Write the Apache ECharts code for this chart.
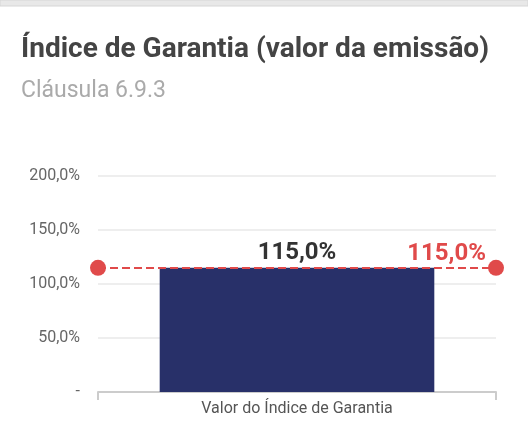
<!DOCTYPE html>
<html>
<head>
<meta charset="utf-8">
<script src="https://cdn.jsdelivr.net/npm/echarts@6/dist/echarts.min.js"></script>
<style>
  html, body { margin: 0; padding: 0; background: #fff; }
  #chart { width: 528px; height: 446px; }
</style>
</head>
<body>
<div id="chart"></div>
<script>
const categories = ['Valor do Índice de Garantia']
const indexValues = [115]
const minimumIndex = 115
const yTicks = [0, 50, 100, 150, 200]

const fmt = (v) => v === 0 ? '-' : v.toFixed(1).replace('.', ',') + '%'

const chart = echarts.init(document.getElementById('chart'))

chart.setOption({
  backgroundColor: '#ffffff',
  textStyle: { fontFamily: 'Roboto' },
  title: {
    text: 'Índice de Garantia (valor da emissão)',
    subtext: 'Cláusula 6.9.3',
    left: 16,
    top: 31,
    itemGap: 16,
    textStyle: { fontSize: 28, fontWeight: 'bold', color: '#444444' },
    subtextStyle: { fontSize: 23, color: '#aaaaaa' }
  },
  graphic: [{
    type: 'rect',
    shape: { x: 0, y: 0, width: 528, height: 6 },
    style: { fill: '#e8e8e8', stroke: '#d6d6d6', lineWidth: 1 }
  }],
  grid: { left: 98, right: 32, top: 176, bottom: 54 },
  xAxis: {
    type: 'category',
    data: categories,
    axisLine: { lineStyle: { color: '#cccccc', width: 2 } },
    axisTick: { show: true, length: 8, lineStyle: { color: '#cccccc', width: 2 } },
    axisLabel: { color: '#555555', fontSize: 16, margin: 9 }
  },
  yAxis: {
    type: 'value',
    min: 0,
    max: yTicks[yTicks.length - 1],
    interval: 50,
    axisLabel: { color: '#666666', fontSize: 16, margin: 18, formatter: fmt },
    splitLine: { lineStyle: { color: '#eeeeee', width: 2 } }
  },
  series: [{
    type: 'bar',
    data: indexValues,
    barWidth: '69%',
    itemStyle: { color: '#283069' },
    label: {
      show: true,
      position: 'top',
      distance: 3,
      fontSize: 24,
      fontWeight: 'bold',
      color: '#333333',
      formatter: (p) => fmt(p.value)
    },
    markLine: {
      silent: true,
      symbol: ['circle', 'circle'],
      symbolSize: 16,
      lineStyle: { color: '#e04a4a', type: 'dashed', width: 2 },
      itemStyle: { color: '#e04a4a' },
      label: {
        position: 'insideEndTop',
        distance: [10, 2],
        fontSize: 24,
        fontWeight: 'bold',
        color: '#e04a4a',
        formatter: () => fmt(minimumIndex)
      },
      data: [{ yAxis: minimumIndex }]
    }
  }]
})
</script>
</body>
</html>
